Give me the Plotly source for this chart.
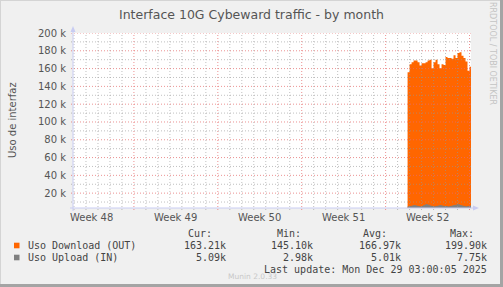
import plotly.graph_objects as go
import pandas as pd

# ---------------- data ----------------
title_text = "Interface 10G Cybeward traffic - by month"
y_title = "Uso de interfaz"
week_labels = ["Week 48", "Week 49", "Week 50", "Week 51", "Week 52"]
week_centers = ["2025-11-27 12:00", "2025-12-04 12:00", "2025-12-11 12:00",
                "2025-12-18 12:00", "2025-12-25 12:00"]
y_tickvals = [20000, 40000, 60000, 80000, 100000, 120000, 140000, 160000, 180000, 200000]
y_ticktext = ["20 k", "40 k", "60 k", "80 k", "100 k", "120 k", "140 k", "160 k", "180 k", "200 k"]
y_min = 3300

sample_start = "2025-12-23 20:00"
sample_step = "4h"
download_k = [156, 165, 167, 169, 169, 167, 163.5, 166, 166, 167, 169, 170, 160.5,
              167, 170, 165, 160.5, 165, 164, 173, 172, 172, 171, 175, 172, 177.5,
              178.5, 174.5, 172, 168, 157.5, 162, 163]
upload_k = [4.5, 5, 5.5, 6, 5.5, 5, 4.5, 5, 6, 7, 6.5, 5.5, 5, 4.5, 5, 5.5, 6,
            5.5, 5, 5, 4.5, 5, 5.5, 6, 6.5, 7, 6, 5.5, 5, 4.5, 5, 5.5, 5]

legend_headers = ["Cur:", "Min:", "Avg:", "Max:"]
series_names = ["Uso Download (OUT)", "Uso Upload (IN)"]
series_colors = ["#ff6600", "#808080"]
download_stats = ["163.21k", "145.10k", "166.97k", "199.90k"]
upload_stats = ["5.09k", "2.98k", "5.01k", "7.75k"]
last_update = "Last update: Mon Dec 29 03:00:05 2025"
munin_ver = "Munin 2.0.33"
rrd_credit = "RRDTOOL / TOBI OETIKER"

x_range = ["2025-11-25 22:00", "2025-12-29 03:00"]
grid_days = pd.date_range("2025-11-26", "2025-12-29", freq="D")

# ---------------- layout geometry ----------------
W, H = 503, 287
L, R, T, B = 73, 471, 33, 208
PW, PH = R - L, B - T


def px(X):
    return (X - L) / PW


def py(Y):
    return (B - Y) / PH


times = pd.date_range(sample_start, periods=len(download_k), freq=sample_step)

fig = go.Figure()
fig.add_trace(go.Scatter(
    x=times, y=[v * 1000 for v in download_k], mode="lines", line_shape="hv",
    line=dict(width=0, color=series_colors[0]), fill="tozeroy",
    fillcolor=series_colors[0], hoverinfo="skip", showlegend=False))
fig.add_trace(go.Scatter(
    x=times, y=[v * 1000 for v in upload_k], mode="lines", line_shape="hv",
    line=dict(width=1, color=series_colors[1]), fill="tozeroy",
    fillcolor=series_colors[1], hoverinfo="skip", showlegend=False))

shapes = []
major_col = "rgba(230,110,110,0.75)"
minor_col = "rgba(150,150,150,0.6)"
dash = "1px,2px"
# horizontal grid
for v in range(10000, 200001, 10000):
    col = major_col if v % 20000 == 0 else minor_col
    shapes.append(dict(type="line", layer="above", xref="paper", yref="y",
                       x0=px(L - 2), x1=1, y0=v, y1=v,
                       line=dict(color=col, width=1, dash=dash)))
# vertical grid
for d in grid_days:
    col = major_col if d.weekday() == 0 else minor_col
    shapes.append(dict(type="line", layer="above", xref="x", yref="paper",
                       x0=d, x1=d, y0=py(B + 2), y1=1,
                       line=dict(color=col, width=1, dash=dash)))
axis_col = "#c8ccf2"
# axis lines
shapes.append(dict(type="line", layer="above", xref="paper", yref="paper",
                   x0=0, x1=0, y0=py(B + 3), y1=py(T - 5),
                   line=dict(color=axis_col, width=1)))
shapes.append(dict(type="line", layer="above", xref="paper", yref="paper",
                   x0=px(L - 3), x1=px(R + 4), y0=0, y1=0,
                   line=dict(color=axis_col, width=1)))
# arrows
shapes.append(dict(type="path", layer="above", xref="paper", yref="paper",
                   xsizemode="pixel", ysizemode="pixel", xanchor=0, yanchor=py(T - 7),
                   path="M -2.5 -6 L 2.5 -6 L 0 0 Z",
                   fillcolor=axis_col, line=dict(width=0)))
shapes.append(dict(type="path", layer="above", xref="paper", yref="paper",
                   xsizemode="pixel", ysizemode="pixel", xanchor=px(R + 8), yanchor=0,
                   path="M -6 -2.5 L -6 2.5 L 0 0 Z",
                   fillcolor=axis_col, line=dict(width=0)))
# legend squares
for i, c in enumerate(series_colors):
    yc = 245.5 + 12 * i
    shapes.append(dict(type="rect", layer="above", xref="paper", yref="paper",
                       x0=px(14), x1=px(19.5), y0=py(yc + 2.8), y1=py(yc - 2.8),
                       fillcolor=c, line=dict(width=0)))
# frame
shapes.append(dict(type="rect", xref="paper", yref="paper", layer="above",
                   x0=px(0), x1=px(W), y0=py(1), y1=py(0),
                   fillcolor="#d4d4d4", line=dict(width=0)))
shapes.append(dict(type="rect", xref="paper", yref="paper", layer="above",
                   x0=px(0), x1=px(1), y0=py(H), y1=py(0),
                   fillcolor="#d4d4d4", line=dict(width=0)))
shapes.append(dict(type="rect", xref="paper", yref="paper", layer="above",
                   x0=px(W - 3), x1=px(W), y0=py(H), y1=py(0),
                   fillcolor="#a4a4a4", line=dict(width=0)))
shapes.append(dict(type="rect", xref="paper", yref="paper", layer="above",
                   x0=px(0), x1=px(W), y0=py(H), y1=py(H - 3),
                   fillcolor="#a4a4a4", line=dict(width=0)))

ann = []
SANS = "DejaVu Sans"
MONO = "DejaVu Sans Mono"


def text(s, X, Y, xa="left", size=10, color="#444", family=MONO, angle=0):
    ann.append(dict(text=s, x=px(X), y=py(Y), xref="paper", yref="paper",
                    xanchor=xa, yanchor="middle", showarrow=False,
                    textangle=angle, borderpad=0,
                    font=dict(family=family, size=size, color=color)))


text(title_text, 251, 14, xa="center", size=12.5, color="#555", family=SANS)
text(y_title, 12, 120, xa="center", size=10, color="#555", family=SANS, angle=-90)
text(rrd_credit, 493, 54, xa="center", size=8, color="#c4c4c4", family=SANS, angle=90)
text(munin_ver, 252, 276.5, xa="center", size=7.5, color="#c8c8c8", family=SANS)

# week labels on the time axis
for wc, wl in zip(week_centers, week_labels):
    ann.append(dict(text=wl, x=wc, y=py(217), xref="x", yref="paper",
                    xanchor="center", yanchor="middle", showarrow=False, borderpad=0,
                    font=dict(family=SANS, size=10, color="#555")))

header_right = [213, 302, 388, 475]
value_right = [227, 314, 402, 488]
for h, xr in zip(legend_headers, header_right):
    text(h, xr, 233, xa="right")
for i, (name, stats) in enumerate(zip(series_names, [download_stats, upload_stats])):
    yc = 245.5 + 12 * i
    text(name, 27, yc)
    for s, xr in zip(stats, value_right):
        text(s, xr, yc, xa="right")
text(last_update, 488, 269, xa="right")

fig.update_layout(
    width=W, height=H,
    margin=dict(l=L, r=W - R, t=T, b=H - B, pad=0),
    paper_bgcolor="#f0f0f0", plot_bgcolor="#ffffff",
    showlegend=False,
    shapes=shapes, annotations=ann,
    xaxis=dict(type="date", range=x_range, showgrid=False, zeroline=False,
               showline=False, showticklabels=False, ticks=""),
    yaxis=dict(range=[y_min, 200000], showgrid=False, zeroline=False, showline=False,
               tickvals=y_tickvals, ticktext=y_ticktext,
               ticks="outside", ticklen=4, tickcolor="rgba(0,0,0,0)",
               tickfont=dict(family=SANS, size=10, color="#555")),
)

fig.write_html("out.html")
